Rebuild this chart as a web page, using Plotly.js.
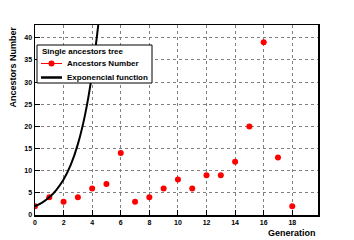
<!DOCTYPE html>
<html><head><meta charset="utf-8">
<script src="https://cdn.plot.ly/plotly-3.0.1.min.js"></script>
<style>html,body{margin:0;padding:0;background:#fff}#c{width:354px;height:240px}</style>
</head><body><div id="c"></div>
<script>
const generation = [0,1,2,3,4,5,6,7,8,9,10,11,12,13,14,15,16,17,18];
const ancestors = [2,4,3,4,6,7,14,3,4,6,8,6,9,9,12,20,39,13,2];
const expX = [0,0.5,1,1.5,2,2.5,3,3.5,4,4.5];
const expY = [2,2.8,4,5.7,8,11.3,16,22.6,32,45];
const xTicks = [0,2,4,6,8,10,12,14,16,18];
const yTicks = [0,5,10,15,20,25,30,35,40];
const legendTitle = 'Single ancestors tree';
const seriesNames = ['Ancestors Number','Exponencial function'];

const W = 354, H = 240, L = 35, R = 36, T = 25, B = 25;
const pw = W - L - R, ph = H - T - B;
const px = x => (x - L) / pw;
const py = y => (H - B - y) / ph;

const traces = [
  {x: generation, y: ancestors, mode:'markers', type:'scatter', name:seriesNames[0],
   marker:{color:'#ff0000', size:6}, showlegend:false},
  {x: expX, y: expY, mode:'lines', type:'scatter', name:seriesNames[1],
   line:{color:'#000', width:2, shape:'spline'}, showlegend:false}
];
const gridStyle = {showgrid:true, gridcolor:'#808080', griddash:'dot', gridwidth:1};
const fam = 'Liberation Sans, Arial, sans-serif';
const layout = {
  width:W, height:H,
  margin:{l:L, r:R, t:T, b:B},
  paper_bgcolor:'#fff', plot_bgcolor:'#fff',
  font:{family:fam, color:'#000'},
  showlegend:false,
  xaxis:Object.assign({range:[0,19.8], tickvals:xTicks, ticktext:xTicks.map(String),
    ticks:'inside', ticklen:5, tickcolor:'#000', showline:true, linecolor:'#000', linewidth:1.5,
    mirror:true, zeroline:false, tickfont:{size:7, weight:'bold'}}, gridStyle),
  yaxis:Object.assign({range:[0,42.9], tickvals:yTicks, ticktext:yTicks.map(String),
    ticks:'inside', ticklen:5, tickcolor:'#000', showline:true, linecolor:'#000', linewidth:1.5,
    mirror:true, zeroline:false, tickfont:{size:7, weight:'bold'}}, gridStyle),
  shapes:[
    {type:'rect', xref:'paper', yref:'paper', x0:px(37), x1:px(152), y0:py(45), y1:py(83),
     fillcolor:'#fff', line:{color:'#000', width:1}, layer:'above'},
    {type:'line', xref:'paper', yref:'paper', x0:px(41), x1:px(62), y0:py(63.5), y1:py(63.5),
     line:{color:'#ff0000', width:1}, layer:'above'},
    {type:'circle', xref:'paper', yref:'paper', x0:px(48.5), x1:px(54.5), y0:py(60.5), y1:py(66.5),
     fillcolor:'#ff0000', line:{color:'#ff0000', width:0}, layer:'above'},
    {type:'line', xref:'paper', yref:'paper', x0:px(41), x1:px(62), y0:py(77.5), y1:py(77.5),
     line:{color:'#000', width:2.5}, layer:'above'}
  ],
  annotations:[
    {text:legendTitle, xref:'paper', yref:'paper', x:px(40), y:py(51), xanchor:'left', yanchor:'middle',
     showarrow:false, font:{size:8, family:fam, weight:'bold'}},
    {text:seriesNames[0], xref:'paper', yref:'paper', x:px(65), y:py(63.5), xanchor:'left', yanchor:'middle',
     showarrow:false, font:{size:8, family:fam, weight:'bold'}},
    {text:seriesNames[1], xref:'paper', yref:'paper', x:px(65), y:py(77.5), xanchor:'left', yanchor:'middle',
     showarrow:false, font:{size:8, family:fam, weight:'bold'}},
    {text:'Generation', xref:'paper', yref:'paper', x:1, y:py(233), xanchor:'right', yanchor:'middle',
     showarrow:false, font:{size:9, family:fam, weight:'bold'}},
    {text:'Ancestors Number', xref:'paper', yref:'paper', x:px(12), y:1, xanchor:'center', yanchor:'top',
     textangle:-90, showarrow:false, font:{size:9, family:fam, weight:'bold'}}
  ]
};
Plotly.newPlot('c', traces, layout, {staticPlot:true, displayModeBar:false});
</script></body></html>
